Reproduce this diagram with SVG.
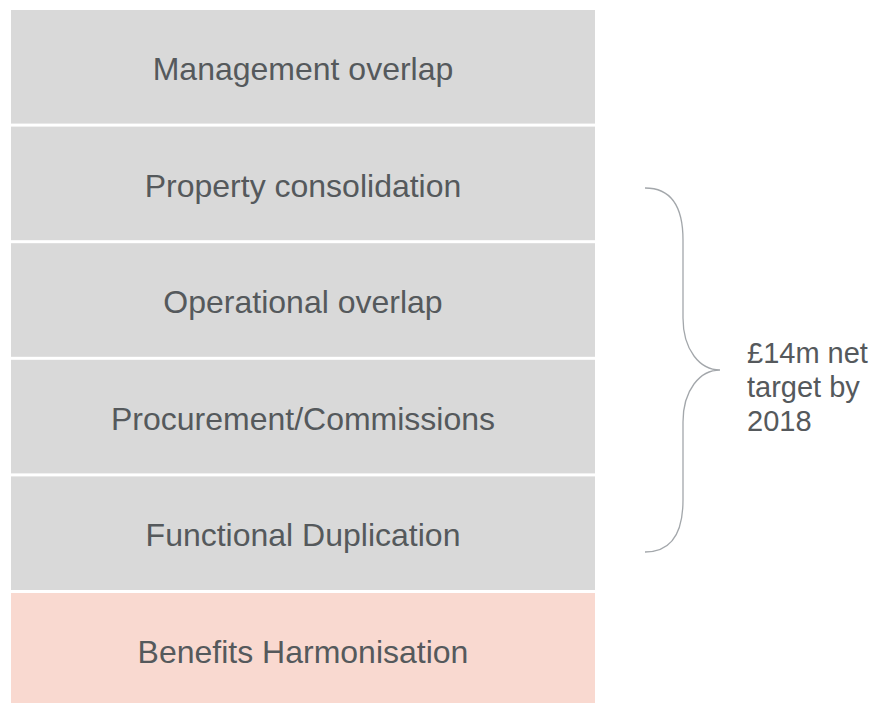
<svg xmlns="http://www.w3.org/2000/svg" width="872" height="703" viewBox="0 0 872 703">
<style>
.box{fill:#d9d9d9}
.pink{fill:#f9d9d0}
.lbl{font-family:"Liberation Sans",Arial,sans-serif;font-size:32px;fill:#55595c;text-anchor:middle}
.side{font-family:"Liberation Sans",Arial,sans-serif;font-size:29px;fill:#55595c}
.brace{fill:none;stroke:#a3a7ab;stroke-width:1.3}
</style>
<rect width="872" height="703" fill="#ffffff"/>
<g id="management"><rect class="box" x="11" y="10" width="584" height="113.6"/><text class="lbl" x="303" y="80">Management overlap</text></g>
<g id="property"><rect class="box" x="11" y="126.6" width="584" height="113.6"/><text class="lbl" x="303" y="196.6">Property consolidation</text></g>
<g id="operational"><rect class="box" x="11" y="243.2" width="584" height="113.6"/><text class="lbl" x="303" y="313.2">Operational overlap</text></g>
<g id="procurement"><rect class="box" x="11" y="359.8" width="584" height="113.6"/><text class="lbl" x="303" y="429.8">Procurement/Commissions</text></g>
<g id="functional"><rect class="box" x="11" y="476.4" width="584" height="113.6"/><text class="lbl" x="303" y="546.4">Functional Duplication</text></g>
<g id="benefits"><rect class="pink" x="11" y="593" width="584" height="110"/><text class="lbl" x="303" y="663">Benefits Harmonisation</text></g>
<g id="connectors">
<path class="brace" d="M645,188 C670,188 683,205 683,240 L683,318 C683,350 700,370 720,370 C700,370 683,390 683,422 L683,500 C683,535 670,552 645,552"/>
</g>
<g id="target"><text class="side" x="747" y="363">£14m net</text><text class="side" x="747" y="397">target by</text><text class="side" x="747" y="431">2018</text></g>
</svg>
